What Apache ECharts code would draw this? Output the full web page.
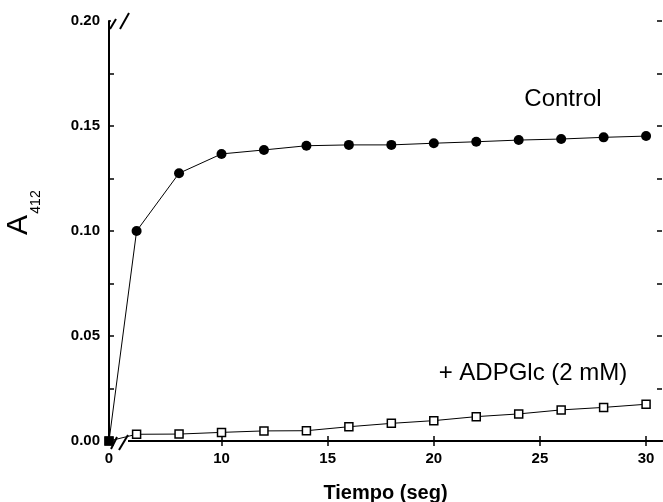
<!DOCTYPE html>
<html>
<head>
<meta charset="utf-8">
<script src="https://cdn.jsdelivr.net/npm/echarts@6/dist/echarts.min.js"></script>
<style>
html, body { margin: 0; padding: 0; background: #fff; }
#main { width: 663px; height: 502px; }
</style>
</head>
<body>
<div id="main"></div>
<script>
// Tiempo (seg); t = 0 sits on the axis break
var tiempo = [0, 6, 8, 10, 12, 14, 16, 18, 20, 22, 24, 26, 28, 30];
// A412
var control = [0, 0.1000, 0.1275, 0.1367, 0.1386, 0.1406, 0.1410, 0.1410, 0.1418, 0.1425, 0.1433, 0.1438, 0.1446, 0.1452];
var adpglc = [0, 0.0032, 0.0033, 0.0041, 0.0048, 0.0049, 0.0068, 0.0084, 0.0097, 0.0116, 0.0129, 0.0148, 0.0160, 0.0175];
var xTicks = [10, 15, 20, 25, 30];
var X_BREAK = 4.7; // axis value where the broken x axis begins, labelled "0"

var FONT = "'Liberation Sans', Arial, sans-serif";

function pairs(ys) {
    return tiempo.map(function (t, i) {
        return [Math.max(t, X_BREAK), ys[i]];
    });
}

var myChart = echarts.init(document.getElementById('main'));

var axisLine = { show: true, lineStyle: { color: '#000', width: 2 } };
var tick = { show: true, inside: true, length: 5, lineStyle: { color: '#000', width: 1.5 } };

var controlData = pairs(control);
controlData[0] = { value: controlData[0], symbol: 'rect', symbolSize: 9 };

var option = {
    animation: false,
    grid: { left: 109, right: 1, top: 21, bottom: 61, containLabel: false, outerBoundsMode: 'none' },
    xAxis: [
        {
            type: 'value',
            position: 'bottom',
            min: X_BREAK,
            max: 30.75,
            name: 'Tiempo (seg)',
            nameLocation: 'middle',
            nameGap: 42,
            nameTextStyle: { color: '#000', fontFamily: FONT, fontSize: 20, fontWeight: 'bold' },
            axisLine: axisLine,
            axisTick: Object.assign({ customValues: xTicks }, tick),
            splitLine: { show: false },
            axisLabel: {
                customValues: [X_BREAK].concat(xTicks),
                margin: 10,
                color: '#000',
                fontFamily: FONT,
                fontSize: 15,
                fontWeight: 'bold',
                formatter: function (v) { return v === X_BREAK ? '0' : String(v); }
            }
        },
        {
            type: 'value',
            position: 'top',
            min: X_BREAK,
            max: 30.75,
            axisLine: axisLine,
            axisTick: Object.assign({ customValues: xTicks }, tick),
            axisLabel: { show: false },
            splitLine: { show: false }
        }
    ],
    yAxis: [
        {
            type: 'value',
            position: 'left',
            min: 0,
            max: 0.2,
            interval: 0.025,
            axisLine: axisLine,
            axisTick: tick,
            splitLine: { show: false },
            axisLabel: {
                margin: 9,
                color: '#000',
                fontFamily: FONT,
                fontSize: 15,
                fontWeight: 'bold',
                formatter: function (v) {
                    return Math.round(v * 1000) % 50 === 0 ? v.toFixed(2) : '';
                }
            }
        },
        {
            type: 'value',
            position: 'right',
            min: 0,
            max: 0.2,
            interval: 0.025,
            axisLine: { show: false },
            axisTick: tick,
            axisLabel: { show: false },
            splitLine: { show: false }
        }
    ],
    series: [
        {
            name: '+ ADPGlc (2 mM)',
            type: 'line',
            data: pairs(adpglc),
            symbol: 'rect',
            symbolSize: 8,
            itemStyle: { color: '#fff', borderColor: '#000', borderWidth: 1.5 },
            lineStyle: { color: '#000', width: 1 },
            z: 3
        },
        {
            name: 'Control',
            type: 'line',
            data: controlData,
            symbol: 'circle',
            symbolSize: 10,
            itemStyle: { color: '#000' },
            lineStyle: { color: '#000', width: 1 },
            z: 4
        }
    ]
};

myChart.setOption(option);

// axis break marks and labels
var o = myChart.convertToPixel({ gridIndex: 0 }, [X_BREAK, 0]);
var t = myChart.convertToPixel({ gridIndex: 0 }, [X_BREAK, 0.2]);
var ox = o[0], oy = o[1], ty = t[1];
var slash = { stroke: '#000', lineWidth: 2 };

myChart.setOption({
    graphic: [
        { type: 'rect', z: 1, shape: { x: ox + 2, y: oy - 2, width: 17, height: 4 }, style: { fill: '#fff' } },
        { type: 'rect', z: 1, shape: { x: ox + 2, y: ty - 2, width: 17, height: 4 }, style: { fill: '#fff' } },
        { type: 'line', z: 5, shape: { x1: ox + 2, y1: oy + 8, x2: ox + 8, y2: oy - 4 }, style: slash },
        { type: 'line', z: 5, shape: { x1: ox + 10, y1: oy + 9, x2: ox + 19, y2: oy - 6 }, style: slash },
        { type: 'line', z: 5, shape: { x1: ox + 1, y1: ty + 8, x2: ox + 7, y2: ty - 2 }, style: slash },
        { type: 'line', z: 5, shape: { x1: ox + 11, y1: ty + 8, x2: ox + 20, y2: ty - 8 }, style: slash },
        {
            type: 'text', x: 19, y: 225, rotation: Math.PI / 2,
            style: { text: 'A', fill: '#000', font: '30px ' + FONT, align: 'center', verticalAlign: 'middle' }
        },
        {
            type: 'text', x: 36, y: 202, rotation: Math.PI / 2,
            style: { text: '412', fill: '#000', font: '14px ' + FONT, align: 'center', verticalAlign: 'middle' }
        },
        {
            type: 'text', x: 563, y: 99,
            style: { text: 'Control', fill: '#000', font: '24px ' + FONT, align: 'center', verticalAlign: 'middle' }
        },
        {
            type: 'text', x: 533, y: 373,
            style: { text: '+ ADPGlc (2 mM)', fill: '#000', font: '24px ' + FONT, align: 'center', verticalAlign: 'middle' }
        }
    ]
});
</script>
</body>
</html>
